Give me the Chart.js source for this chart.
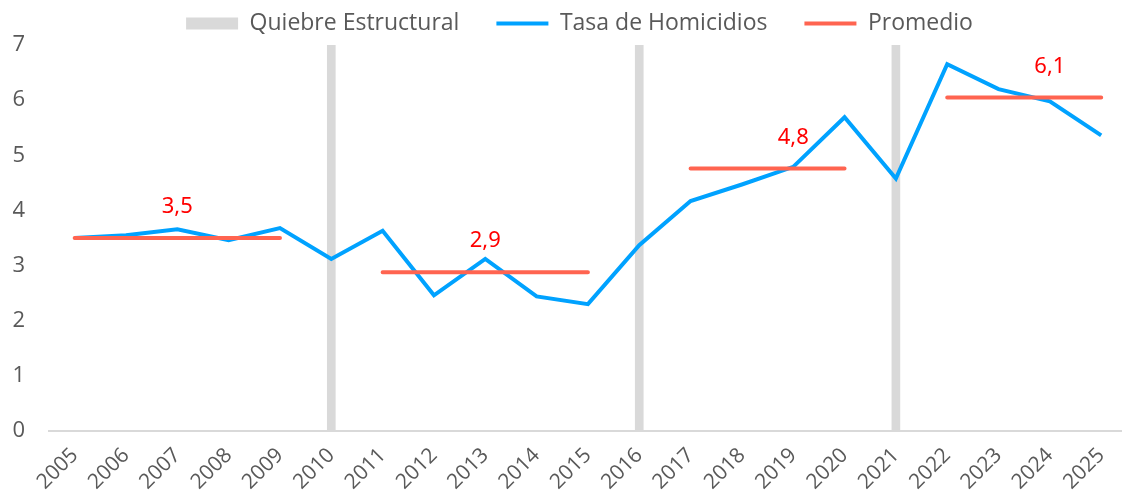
<!DOCTYPE html>
<html>
<head>
<meta charset="utf-8">
<script src="https://cdn.jsdelivr.net/npm/chart.js@4/dist/chart.umd.min.js"></script>
<style>
  html, body { margin: 0; padding: 0; background: #fff; overflow: hidden; }
  #wrap { width: 1131px; height: 502px; }
</style>
</head>
<body>
<div id="wrap"><canvas id="chart" width="1131" height="502"></canvas></div>
<script>
const years = ["2005","2006","2007","2008","2009","2010","2011","2012","2013","2014","2015",
  "2016","2017","2018","2019","2020","2021","2022","2023","2024","2025"];
const homicideRate = [3.50, 3.55, 3.66, 3.46, 3.68, 3.12, 3.63, 2.46, 3.12, 2.44, 2.30,
  3.37, 4.17, 4.47, 4.79, 5.69, 4.58, 6.65, 6.20, 5.98, 5.36];
const breakYears = ["2010", "2016", "2021"];
const breakHeight = 7;
const periodStart = ["2005", "2011", "2017", "2022"];
const periodEnd = ["2009", "2015", "2020", "2025"];
const periodAvg = [3.50, 2.88, 4.76, 6.05];
const periodLabel = ["3,5", "2,9", "4,8", "6,1"];
const labelYear = ["2007", "2013", "2019", "2024"];

const breakData = years.map(y => breakYears.includes(y) ? breakHeight : null);
const avgData = years.map(y => {
  const i = periodStart.findIndex((s, k) => y >= s && y <= periodEnd[k]);
  return i >= 0 ? periodAvg[i] : null;
});

const FONT = "'Open Sans', sans-serif";
const TEXT = "#595959";

// red value labels above each average line
const avgLabels = {
  id: "avgLabels",
  afterDatasetsDraw(chart) {
    const {ctx, scales: {x, y}} = chart;
    ctx.save();
    ctx.fillStyle = "#FF0000";
    ctx.font = "22px 'Noto Sans', sans-serif";
    ctx.textAlign = "center";
    ctx.textBaseline = "middle";
    periodLabel.forEach((t, i) => {
      const px = x.getPixelForValue(years.indexOf(labelYear[i]));
      const py = y.getPixelForValue(periodAvg[i]) - 31;
      ctx.fillText(t, px, py);
    });
    ctx.restore();
  }
};

// legend in the original sits a bit right of the canvas centre
const legendShift = {
  id: "legendShift",
  afterInit(chart) {
    const lg = chart.legend;
    const draw = lg.draw.bind(lg);
    lg.draw = function(area) {
      this.ctx.save();
      this.ctx.translate(14, 0);
      draw(area);
      this.ctx.restore();
    };
  }
};

new Chart(document.getElementById("chart"), {
  type: "bar",
  data: {
    labels: years,
    datasets: [{
      type: "bar",
      label: "Quiebre Estructural",
      data: breakData,
      backgroundColor: "#D9D9D9",
      barThickness: 8,
      order: 3
    }, {
      type: "line",
      label: "Tasa de Homicidios",
      data: homicideRate,
      borderColor: "#00A2FF",
      backgroundColor: "#00A2FF",
      borderWidth: 4,
      pointRadius: 0,
      tension: 0,
      order: 2
    }, {
      type: "line",
      label: "Promedio",
      data: avgData,
      borderColor: "#FF6450",
      backgroundColor: "#FF6450",
      borderWidth: 4,
      borderCapStyle: "round",
      pointRadius: 0,
      spanGaps: false,
      order: 1
    }]
  },
  options: {
    responsive: false,
    animation: false,
    layout: { padding: { top: -25, left: 0, right: 0, bottom: 0 } },
    plugins: {
      tooltip: { enabled: false },
      legend: {
        position: "top",
        labels: {
          font: { family: FONT, size: 23 },
          color: TEXT,
          usePointStyle: true,
          pointStyleWidth: 52,
          boxHeight: 12,
          padding: 37,
          sort: (a, b) => a.datasetIndex - b.datasetIndex,
          generateLabels(chart) {
            const items = Chart.defaults.plugins.legend.labels.generateLabels(chart);
            return items.map(it => {
              it.pointStyle = it.datasetIndex === 0 ? "rect" : "line";
              if (it.datasetIndex > 0) it.lineWidth = 4;
              return it;
            });
          }
        }
      }
    },
    scales: {
      x: {
        offset: true,
        grid: { display: false, drawTicks: false },
        border: { display: true, color: "#D9D9D9", width: 2 },
        ticks: {
          font: { family: FONT, size: 21 },
          color: TEXT,
          minRotation: 45,
          maxRotation: 45,
          padding: 12,
          autoSkip: false
        },
        afterFit(s) { s.height = 71; }
      },
      y: {
        min: 0,
        max: 7,
        grid: { display: false, drawTicks: false },
        border: { display: false },
        ticks: {
          stepSize: 1,
          font: { family: FONT, size: 22 },
          color: TEXT,
          padding: 24
        },
        afterFit(s) { s.width = 49; }
      }
    }
  },
  plugins: [avgLabels, legendShift]
});
</script>
</body>
</html>
